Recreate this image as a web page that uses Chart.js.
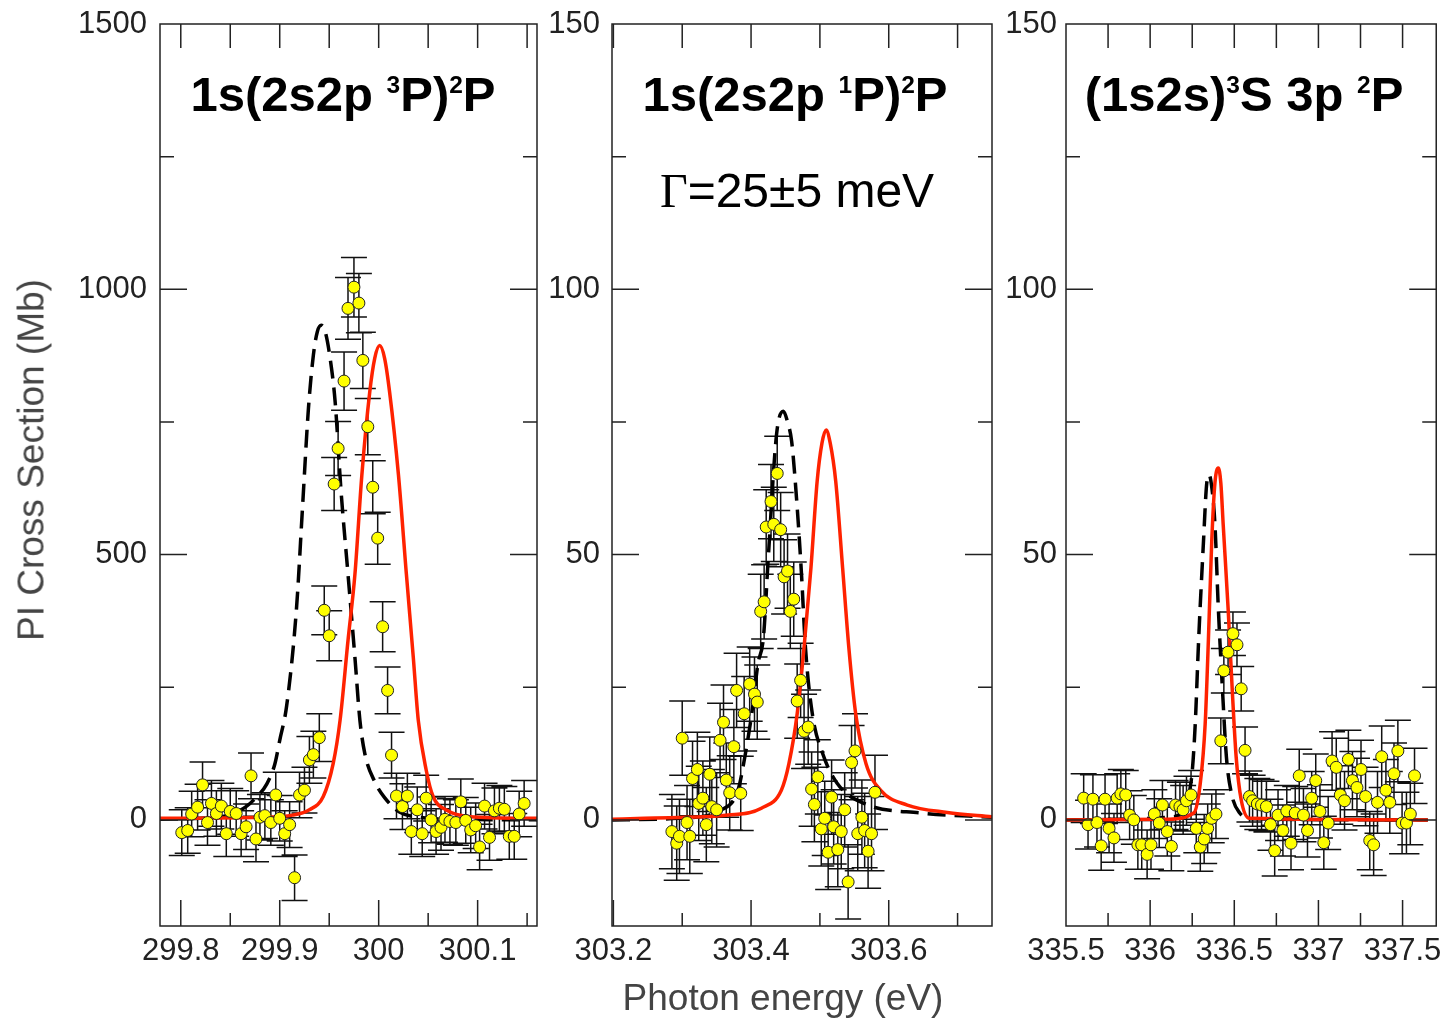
<!DOCTYPE html>
<html>
<head>
<meta charset="utf-8">
<script src="https://cdn.jsdelivr.net/npm/chart.js@4.4.1/dist/chart.umd.min.js"></script>
<style>
body { margin: 0; background: #fff; width: 1449px; height: 1021px; position: relative; overflow: hidden;
       font-family: 'Liberation Sans', Arial, sans-serif; }
canvas { position: absolute; top: 0; }
.ttl { position: absolute; width: 500px; text-align: center; white-space: nowrap; font-weight: bold;
       font-size: 49px; line-height: 49px; color: #000; }
.ttl span { font-size: 0.5em; position: relative; top: -0.72em; }
.note { position: absolute; width: 400px; text-align: center; white-space: nowrap; font-size: 48px; line-height: 48px; color: #000; }
.note i { font-family: 'Liberation Serif', 'Times New Roman', serif; font-style: normal; }
.axt { position: absolute; white-space: nowrap; font-size: 37px; line-height: 37px; color: #444; }
</style>
</head>
<body>
<canvas id="p1" width="545" height="1021" style="left:0px"></canvas>
<canvas id="p2" width="455" height="1021" style="left:545px"></canvas>
<canvas id="p3" width="449" height="1021" style="left:1000px"></canvas>

<div class="ttl" style="left:93px;top:70px">1s(2s2p <span>3</span>P)<span>2</span>P</div>
<div class="ttl" style="left:545px;top:70px">1s(2s2p <span>1</span>P)<span>2</span>P</div>
<div class="ttl" style="left:994px;top:70px">(1s2s)<span>3</span>S 3p <span>2</span>P</div>
<div class="note" style="left:597px;top:167px"><i>Γ</i>=25±5 meV</div>
<div class="axt" style="left:31px;top:460px;transform:translate(-50%,-50%) rotate(-90deg)">PI Cross Section (Mb)</div>
<div class="axt" style="left:783px;top:979px;transform:translateX(-50%)">Photon energy (eV)</div>

<script>
// ---- panel 1 : 1s(2s2p 3P)2P ----
const energy1 = [299.801, 299.807, 299.811, 299.817, 299.822, 299.827, 299.831, 299.836, 299.841, 299.846,
                 299.850, 299.856, 299.861, 299.866, 299.871, 299.876, 299.880, 299.885, 299.891, 299.896,
                 299.900, 299.905, 299.910, 299.915, 299.920, 299.925, 299.930, 299.934, 299.940, 299.945,
                 299.950, 299.955, 299.959, 299.965, 299.969, 299.975, 299.980, 299.984, 299.989, 299.994,
                 299.999, 300.004, 300.009, 300.013, 300.018, 300.024, 300.029, 300.033, 300.039, 300.044,
                 300.048, 300.053, 300.058, 300.063, 300.067, 300.072, 300.078, 300.083, 300.088, 300.093,
                 300.098, 300.102, 300.107, 300.112, 300.117, 300.122, 300.127, 300.132, 300.137, 300.142,
                 300.147];
const sigma1 = [-24, -20, 11, 24, 66, -5, 31, 12, 26, -26,
                16, 12, -26, -13, 83, -36, 5, 8, -5, 47,
                3, -26, -9, -109, 47, 56, 113, 123, 155, 395,
                347, 633, 700, 827, 964, 1004, 974, 866, 741, 627,
                531, 364, 244, 122, 45, 25, 45, -22, 19, -26,
                41, 0, -22, -14, 1, -3, -5, 34, -1, -19,
                -11, -51, 26, -33, 17, 22, 20, -31, -31, 11,
                31];
const err1 = [43, 43, 43, 43, 43, 43, 43, 43, 43, 43,
              43, 43, 43, 43, 43, 43, 43, 43, 43, 43,
              43, 43, 43, 43, 43, 43, 44, 44, 45, 46,
              47, 50, 51, 55, 58, 56, 56, 53, 53, 50,
              49, 47, 44, 43, 43, 43, 43, 43, 43, 43,
              43, 43, 43, 43, 43, 43, 43, 43, 43, 43,
              43, 43, 43, 43, 43, 43, 43, 43, 43, 43,
              43];
const dashX1 = [299.779, 299.82, 299.846, 299.866, 299.876, 299.887, 299.895, 299.900, 299.907, 299.917,
                299.923, 299.929, 299.934, 299.938, 299.942, 299.946, 299.951, 299.956, 299.962, 299.969,
                299.976, 299.981, 299.986, 299.996, 300.006, 300.021, 300.045, 300.08, 300.16];
const dashY1 = [1, 3, 8, 25, 42, 68, 105, 150, 215, 400,
                588, 775, 876, 920, 932, 920, 869, 788, 619, 463,
                306, 188, 125, 72, 42, 15, 4, 1, 0];
const redX1 = [299.779, 299.880, 299.913, 299.930, 299.944, 299.954, 299.961, 299.969, 299.976, 299.983,
               299.991, 299.996, 300.001, 300.006, 300.011, 300.020, 300.028, 300.035, 300.040, 300.048,
               300.055, 300.068, 300.092, 300.16];
const redY1 = [3, 5, 9, 19, 44, 106, 188, 338, 463, 650,
               807, 870, 894, 870, 807, 650, 463, 306, 188, 94,
               44, 19, 6, 3];
const xTicks1 = [299.8, 299.9, 300, 300.1];
const yTicks1 = [0, 500, 1000, 1500];

// ---- panel 2 : 1s(2s2p 1P)2P ----
const energy2 = [303.285, 303.292, 303.296, 303.300, 303.307, 303.311, 303.315, 303.322, 303.324, 303.330,
                 303.335, 303.340, 303.343, 303.350, 303.355, 303.360, 303.364, 303.369, 303.375, 303.379,
                 303.385, 303.390, 303.398, 303.405, 303.409, 303.414, 303.419, 303.422, 303.429, 303.433,
                 303.438, 303.443, 303.448, 303.453, 303.457, 303.462, 303.467, 303.472, 303.477, 303.483,
                 303.488, 303.492, 303.497, 303.502, 303.507, 303.512, 303.517, 303.520, 303.526, 303.531,
                 303.536, 303.541, 303.546, 303.551, 303.555, 303.561, 303.565, 303.570, 303.575, 303.580];
const sigma2 = [-2.2, -4.4, -3.1, 15.4, -0.5, -3.1, 7.8, 9.5, 3.1, 4.1,
                -0.9, 8.6, 2.5, 1.9, 15.0, 18.4, 7.5, 5.1, 13.8, 24.4,
                5.0, 20.0, 25.6, 23.7, 22.2, 39.3, 41.1, 55.2, 60.0, 55.7,
                65.3, 54.7, 45.8, 46.9, 39.3, 41.6, 22.4, 26.3, 16.7, 17.5,
                5.8, 2.9, 8.1, -1.7, 0.3, -6.1, 4.3, -1.3, -5.6, -2.2,
                1.9, -11.7, 10.8, 13.0, -2.6, 0.5, -2.0, -5.9, -2.6, 5.2];
const err2 = [7, 7, 7, 7, 7, 7, 7, 7, 7, 7,
              7, 7, 7, 7, 7, 7, 7, 7, 7, 7,
              7, 7, 7, 7, 7, 7, 7, 7, 7, 7,
              7, 7, 7, 7, 7, 7, 7, 7, 7, 7,
              7, 7, 7, 7, 7, 7, 7, 7, 7, 7,
              7, 7, 7, 7, 7, 7, 7, 7, 7, 7];
const dashX2 = [303.198, 303.294, 303.357, 303.381, 303.391, 303.401, 303.410, 303.418, 303.425, 303.437,
                303.447, 303.453, 303.459, 303.466, 303.473, 303.479, 303.489, 303.504, 303.525, 303.564,
                303.647, 303.75];
const dashY2 = [0, 0.3, 1.9, 5.6, 11.9, 20, 29.4, 34.4, 49.4, 72.6,
                77, 75, 71.3, 60.7, 46.9, 32.5, 20, 12.5, 6.9, 3.1,
                1.3, 0.5];
const redX2 = [303.198, 303.245, 303.367, 303.415, 303.444, 303.455, 303.467, 303.477, 303.487, 303.496,
               303.503, 303.509, 303.515, 303.523, 303.533, 303.542, 303.552, 303.567, 303.588, 303.627,
               303.685, 303.75];
const redY2 = [0.1, 0.3, 0.9, 2.2, 5.6, 10.6, 20, 32.5, 47.5, 63.8,
               71, 73.5, 71, 63.8, 47.5, 32.5, 20, 10.6, 5.6, 2.8,
               1.4, 0.6];
const xTicks2 = [303.2, 303.4, 303.6];
const yTicks2 = [0, 50, 100, 150];

// ---- panel 3 : (1s2s)3S 3p 2P ----
const energy3 = [335.605, 335.631, 335.660, 335.684, 335.709, 335.732, 335.756, 335.785, 335.804, 335.826,
                 335.855, 335.878, 335.903, 335.927, 335.950, 335.982, 336.005, 336.025, 336.054, 336.073,
                 336.102, 336.126, 336.151, 336.177, 336.196, 336.216, 336.243, 336.274, 336.298, 336.321,
                 336.342, 336.366, 336.391, 336.420, 336.438, 336.463, 336.492, 336.516, 336.541, 336.564,
                 336.590, 336.609, 336.637, 336.662, 336.691, 336.715, 336.740, 336.760, 336.789, 336.812,
                 336.837, 336.862, 336.886, 336.911, 336.935, 336.960, 336.984, 337.009, 337.032, 337.058,
                 337.081, 337.106, 337.130, 337.155, 337.178, 337.202, 337.229, 337.253, 337.280, 337.305,
                 337.328, 337.351, 337.376, 337.401, 337.424, 337.449, 337.472, 337.497, 337.523, 337.546,
                 337.571];
const sigma3 = [4.1, -0.9, 3.9, -0.5, -4.9, 3.9, -1.6, -3.4, 4.1, 4.9,
                4.7, 0.9, 0, -4.7, -4.7, -6.5, -4.7, 1.1, -0.6, 2.8,
                -2.2, -5.0, 2.8, 2.5, 1.9, 3.6, 4.7, -1.6, -5.1, -3.6,
                -1.6, 0.3, 1.1, 14.9, 28.1, 31.6, 35.1, 33.0, 24.7, 13.1,
                4.4, 3.6, 3.0, 2.8, 2.5, -0.9, -5.8, 0.9, -2.0, 1.7,
                -4.4, 1.3, 8.3, 0.9, -2.0, 4.1, 7.4, 1.6, -4.3, -0.6,
                11.1, 9.9, 4.7, 3.6, 11.4, 7.4, 6.1, 9.5, 4.4, -3.9,
                -4.7, 3.3, 11.9, 5.6, 3.3, 8.7, 13.0, -0.6, -0.6, 1.1,
                8.3];
const err3 = [4.6, 4.6, 4.6, 4.6, 4.6, 4.6, 4.6, 4.6, 4.6, 4.6,
              4.6, 4.6, 4.6, 4.6, 4.6, 4.6, 4.6, 4.6, 4.6, 4.6,
              4.6, 4.6, 4.6, 4.6, 4.6, 4.6, 4.6, 4.6, 4.6, 4.6,
              4.6, 4.6, 4.6, 4.3, 4.2, 4.2, 4.1, 4.1, 4.2, 4.4,
              4.8, 4.8, 4.8, 4.8, 4.8, 4.8, 4.8, 4.8, 4.8, 4.8,
              5.0, 5.0, 5.0, 5.0, 5.0, 5.0, 5.0, 5.0, 5.0, 5.0,
              5.5, 5.5, 5.5, 5.5, 5.5, 5.5, 5.5, 5.5, 5.5, 5.5,
              5.8, 5.8, 5.8, 5.8, 5.8, 5.8, 5.8, 5.8, 5.8, 5.8,
              5.2];
const dashX3 = [335.5, 336.142, 336.219, 336.249, 336.268, 336.288, 336.317, 336.335, 336.350, 336.365,
                336.385, 336.405, 336.430, 336.453, 336.483, 336.532, 336.61, 337.65];
const dashY3 = [0, 0.6, 3.8, 8.8, 18.1, 33.8, 52.5, 63, 65, 63,
                55.7, 40, 24.4, 11.9, 5.0, 1.3, 0.2, 0];
const redX3 = [335.5, 336.083, 336.259, 336.298, 336.327, 336.346, 336.366, 336.385, 336.405, 336.420,
               336.434, 336.463, 336.488, 336.511, 336.541, 336.590, 337.65];
const redY3 = [0, 0.1, 1.3, 6.9, 18.1, 33.8, 52.5, 63.5, 66.3, 63.5,
               55.7, 40, 24.4, 11.9, 3.8, 0.3, 0];
const xTicks3 = [335.5, 336, 336.5, 337, 337.5];
const yTicks3 = [0, 50, 100, 150];

const FONT = "'Liberation Sans', Arial, sans-serif";

function pairs(xs, ys){ //точки {x,y} из двух массивов
    return xs.map((x, i) => ({x: x, y: ys[i]}));
}

function halfSteps(ticks, max){ //промежуточные деления
    let step = ticks[1] - ticks[0];
    let out = [];
    for(let v = ticks[0] + step / 2; v < max; v += step) out.push(v);
    return out;
}

// error bars, drawn under the points
const errorBars = {
    id: 'errorBars',
    beforeDatasetsDraw(chart){
        let ds = chart.data.datasets[0];
        let sx = chart.scales.x, sy = chart.scales.y;
        let ctx = chart.ctx;
        ctx.save();
        ctx.strokeStyle = '#111';
        ctx.lineWidth = 1.5;
        ctx.beginPath();
        ds.data.forEach(function(p, i){
            let px = sx.getPixelForValue(p.x);
            let top = sy.getPixelForValue(p.y + ds.errors[i]);
            let bot = sy.getPixelForValue(p.y - ds.errors[i]);
            ctx.moveTo(px, top); ctx.lineTo(px, bot);
            ctx.moveTo(px - 13, top); ctx.lineTo(px + 13, top);
            ctx.moveTo(px - 13, bot); ctx.lineTo(px + 13, bot);
        });
        ctx.stroke();
        ctx.restore();
    }
};

// box around the plot with inward ticks on all four sides
const frame = {
    id: 'frame',
    afterDatasetsDraw(chart, args, opt){
        let a = chart.chartArea;
        let sx = chart.scales.x, sy = chart.scales.y;
        let ctx = chart.ctx;
        ctx.save();
        ctx.strokeStyle = '#222';
        ctx.lineWidth = 1.5;
        ctx.strokeRect(a.left, a.top, a.right - a.left, a.bottom - a.top);
        ctx.beginPath();
        let xTick = function(v, lenB, lenT){
            let p = sx.getPixelForValue(v);
            if(p <= a.left + 1 || p >= a.right - 1) return;
            ctx.moveTo(p, a.bottom); ctx.lineTo(p, a.bottom - lenB);
            ctx.moveTo(p, a.top); ctx.lineTo(p, a.top + lenT);
        };
        let yTick = function(v, len){
            let p = sy.getPixelForValue(v);
            if(p <= a.top + 1 || p >= a.bottom - 1) return;
            ctx.moveTo(a.left, p); ctx.lineTo(a.left + len, p);
            ctx.moveTo(a.right, p); ctx.lineTo(a.right - len, p);
        };
        opt.xMajor.forEach(v => xTick(v, 26, 24));
        halfSteps(opt.xMajor, sx.max).forEach(v => xTick(v, 13, 24));
        opt.yMajor.forEach(v => yTick(v, 27));
        halfSteps(opt.yMajor, sy.max).forEach(v => yTick(v, 14));
        ctx.stroke();
        ctx.restore();
    }
};

function makePanel(id, p){ //создание одной панели
    return new Chart(document.getElementById(id), {
        type: 'scatter',
        data: {
            datasets: [{
                data: pairs(p.x, p.y),
                errors: p.err,
                pointRadius: 6,
                backgroundColor: '#ffff00',
                borderColor: '#222',
                borderWidth: 1,
                order: 0
            }, {
                data: pairs(p.redX, p.redY),
                showLine: true,
                pointRadius: 0,
                borderColor: '#ff2200',
                borderWidth: 3.5,
                cubicInterpolationMode: 'monotone',
                order: 1
            }, {
                data: pairs(p.dashX, p.dashY),
                showLine: true,
                pointRadius: 0,
                borderColor: '#000',
                borderWidth: 3.5,
                borderDash: [18, 9],
                cubicInterpolationMode: 'monotone',
                order: 2
            }]
        },
        options: {
            responsive: false,
            devicePixelRatio: 1,
            animation: false,
            events: [],
            layout: {padding: {top: 24, right: p.padRight, bottom: 0, left: 0}},
            plugins: {
                legend: {display: false},
                tooltip: {enabled: false},
                frame: {xMajor: p.xTicks, yMajor: p.yTicks}
            },
            scales: {
                x: {
                    type: 'linear', min: p.xMin, max: p.xMax,
                    grid: {display: false, drawTicks: false},
                    border: {display: false},
                    afterBuildTicks: s => { s.ticks = p.xTicks.map(v => ({value: v})); },
                    afterFit: s => { s.height = 95; },
                    ticks: {
                        autoSkip: false, maxRotation: 0, padding: 7, color: '#222',
                        font: {family: FONT, size: 31},
                        callback: v => String(v)
                    }
                },
                y: {
                    type: 'linear', min: p.yMin, max: p.yMax,
                    grid: {display: false, drawTicks: false},
                    border: {display: false},
                    afterBuildTicks: s => { s.ticks = p.yTicks.map(v => ({value: v})); },
                    afterFit: s => { s.width = p.axisW; },
                    ticks: {
                        padding: p.yPad, color: '#222',
                        font: {family: FONT, size: 31, lineHeight: 0.4},
                        callback: v => String(v)
                    }
                }
            }
        },
        plugins: [errorBars, frame]
    });
}

makePanel('p1', {x: energy1, y: sigma1, err: err1, redX: redX1, redY: redY1, dashX: dashX1, dashY: dashY1,
    xTicks: xTicks1, yTicks: yTicks1, xMin: 299.779, xMax: 300.16, yMin: -200, yMax: 1500,
    axisW: 160, padRight: 8, yPad: 13});
makePanel('p2', {x: energy2, y: sigma2, err: err2, redX: redX2, redY: redY2, dashX: dashX2, dashY: dashY2,
    xTicks: xTicks2, yTicks: yTicks2, xMin: 303.198, xMax: 303.75, yMin: -20, yMax: 150,
    axisW: 67, padRight: 8, yPad: 12});
makePanel('p3', {x: energy3, y: sigma3, err: err3, redX: redX3, redY: redY3, dashX: dashX3, dashY: dashY3,
    xTicks: xTicks3, yTicks: yTicks3, xMin: 335.5, xMax: 337.7, yMin: -20, yMax: 150,
    axisW: 66, padRight: 7, yPad: 9});
</script>
</body>
</html>
